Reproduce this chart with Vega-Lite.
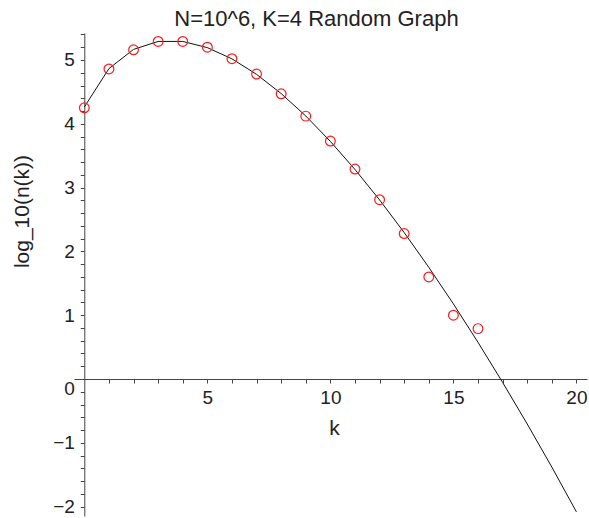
{
  "$schema": "https://vega.github.io/schema/vega-lite/v6.json",
  "width": 513,
  "height": 483,
  "autosize": "none",
  "padding": {"left": 74, "top": 33, "right": 2, "bottom": 2},
  "background": "white",
  "title": {
    "text": "N=10^6, K=4 Random Graph",
    "font": "Liberation Sans",
    "fontSize": 22,
    "fontWeight": "normal",
    "color": "#222222",
    "anchor": "middle",
    "frame": "group",
    "baseline": "alphabetic",
    "dx": -14,
    "dy": 29,
    "offset": 6
  },
  "config": {
    "view": {"stroke": null},
    "axis": {
      "grid": false,
      "labelFont": "Liberation Sans",
      "titleFont": "Liberation Sans",
      "labelFontSize": 19,
      "titleFontSize": 21,
      "titleFontWeight": "normal",
      "labelColor": "#222222",
      "titleColor": "#222222",
      "domainColor": "#444444",
      "tickColor": "#444444",
      "domainWidth": 1,
      "tickWidth": 1,
      "labelOverlap": false,
      "labelFlush": false
    }
  },
  "datasets": {
    "curve": [
      {"k": 0, "logn": 4.263},
      {"k": 1, "logn": 4.865},
      {"k": 2, "logn": 5.166},
      {"k": 3, "logn": 5.291},
      {"k": 4, "logn": 5.291},
      {"k": 5, "logn": 5.194},
      {"k": 6, "logn": 5.018},
      {"k": 7, "logn": 4.775},
      {"k": 8, "logn": 4.474},
      {"k": 9, "logn": 4.122},
      {"k": 10, "logn": 3.724},
      {"k": 11, "logn": 3.284},
      {"k": 12, "logn": 2.807},
      {"k": 13, "logn": 2.295},
      {"k": 14, "logn": 1.751},
      {"k": 15, "logn": 1.177},
      {"k": 16, "logn": 0.575},
      {"k": 17, "logn": -0.053},
      {"k": 18, "logn": -0.705},
      {"k": 19, "logn": -1.380},
      {"k": 20, "logn": -2.082}
    ],
    "obs": [
      {"k": 0, "logn": 4.25},
      {"k": 1, "logn": 4.86},
      {"k": 2, "logn": 5.16},
      {"k": 3, "logn": 5.29},
      {"k": 4, "logn": 5.29},
      {"k": 5, "logn": 5.2},
      {"k": 6, "logn": 5.02},
      {"k": 7, "logn": 4.78},
      {"k": 8, "logn": 4.47},
      {"k": 9, "logn": 4.12},
      {"k": 10, "logn": 3.73},
      {"k": 11, "logn": 3.29},
      {"k": 12, "logn": 2.81},
      {"k": 13, "logn": 2.28},
      {"k": 14, "logn": 1.6},
      {"k": 15, "logn": 1.0},
      {"k": 16, "logn": 0.79}
    ]
  },
  "encoding": {
    "x": {
      "field": "k",
      "type": "quantitative",
      "scale": {"domain": [-0.42, 20.43], "nice": false, "zero": false},
      "axis": {
        "title": "k",
        "values": [1,2,3,4,5,6,7,8,9,10,11,12,13,14,15,16,17,18,19,20],
        "labelExpr": "datum.value % 5 === 0 ? datum.label : ''",
        "offset": -137,
        "tickSize": 4,
        "labelPadding": 5,
        "titleX": 260,
        "titleY": 49,
        "titleBaseline": "middle",
        "titleAlign": "center"
      }
    },
    "y": {
      "field": "logn",
      "type": "quantitative",
      "scale": {"domain": [-2.147, 5.423], "nice": false, "zero": false},
      "axis": {
        "title": "log_10(n(k))",
        "values": [-2,-1.8,-1.6,-1.4,-1.2,-1,-0.8,-0.6,-0.4,-0.2,0,0.2,0.4,0.6,0.8,1,1.2,1.4,1.6,1.8,2,2.2,2.4,2.6,2.8,3,3.2,3.4,3.6,3.8,4,4.2,4.4,4.6,4.8,5,5.2,5.4],
        "labelExpr": "abs(datum.value - round(datum.value)) < 0.001 ? format(datum.value, 'd') : ''",
        "labelBaseline": {"condition": {"test": "datum.value === 0", "value": "top"}, "value": "middle"},
        "offset": -10.3,
        "tickSize": 4,
        "labelPadding": 6,
        "titleX": -62,
        "titleY": 178,
        "titleAngle": -90,
        "titleBaseline": "middle",
        "titleAlign": "center"
      }
    }
  },
  "layer": [
    {
      "data": {"name": "curve"},
      "mark": {"type": "line", "color": "#111111", "strokeWidth": 1, "interpolate": "linear"}
    },
    {
      "data": {"name": "obs"},
      "mark": {"type": "point", "shape": "circle", "filled": false, "color": "#ff1a1a", "size": 95, "strokeWidth": 1.2, "opacity": 1}
    }
  ]
}
